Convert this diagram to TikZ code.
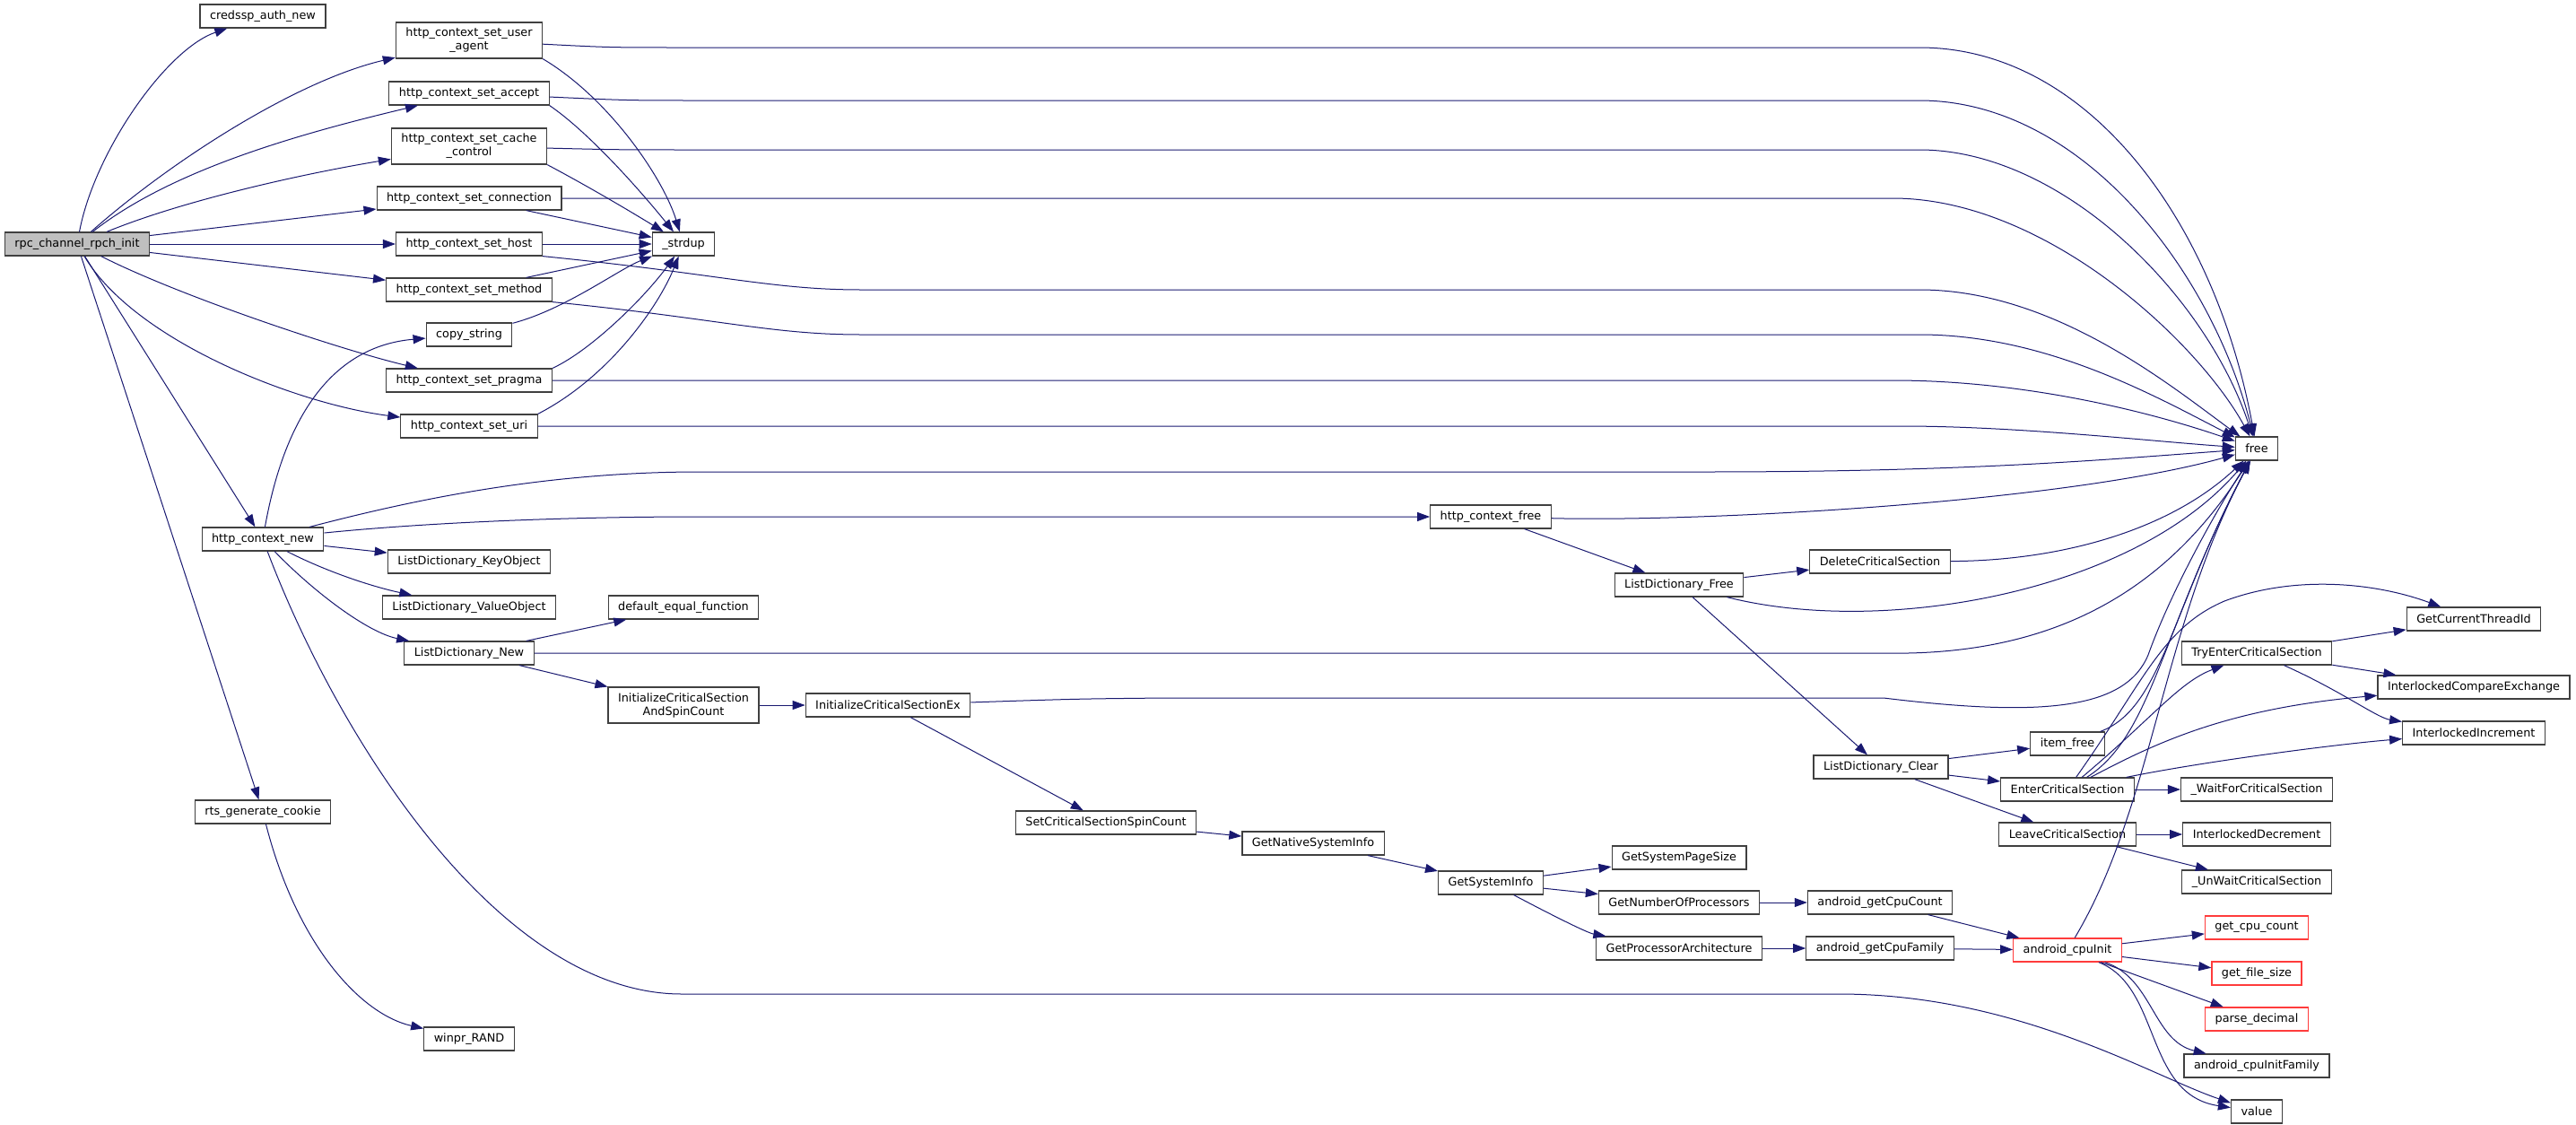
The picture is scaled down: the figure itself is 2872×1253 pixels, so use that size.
\documentclass[tikz,border=0pt]{standalone}
\usepackage{fontspec}
\setmainfont{DejaVu Sans}
\usetikzlibrary{arrows.meta,positioning}
\definecolor{edgeblue}{HTML}{191970}
\definecolor{boxgray}{HTML}{404040}
\definecolor{rootgray}{HTML}{BFBFBF}
\definecolor{boxred}{HTML}{FF3C3C}
\tikzset{
  fnbox/.style={draw=boxgray, line width=1.2pt, fill=white, inner xsep=11pt, inner ysep=0pt,
    minimum height=26pt, align=center, font=\fontsize{12.8}{15}\selectfont},
  fnroot/.style={fnbox, fill=rootgray},
  fnred/.style={fnbox, draw=boxred},
  twoline/.style={minimum height=40pt},
  callarrow/.style={draw=edgeblue, line width=1pt, -{Triangle[length=14pt,width=10pt]}}
}
\begin{document}
\begin{tikzpicture}[x=1pt,y=-1pt]
\useasboundingbox (0,0) rectangle (2872,1253);
%root
\node[fnroot] (rpc) at (86,272) {rpc\_channel\_rpch\_init};
%first level
\node[fnbox] (credssp) at (293,18) {credssp\_auth\_new};
\node[fnbox] (ctxnew) at (293,601) {http\_context\_new};
\node[fnbox] (rts) at (293,905) {rts\_generate\_cookie};
%setters
\node[fnbox,twoline] (ua) at (523,45) {http\_context\_set\_user\\\_agent};
\node[fnbox] (accept) at (523,104) {http\_context\_set\_accept};
\node[fnbox,twoline] (cachectl) at (523,163) {http\_context\_set\_cache\\\_control};
\node[fnbox] (conn) at (523,221) {http\_context\_set\_connection};
\node[fnbox] (host) at (523,272) {http\_context\_set\_host};
\node[fnbox] (method) at (523,323) {http\_context\_set\_method};
\node[fnbox] (copystr) at (523,373) {copy\_string};
\node[fnbox] (pragma) at (523,424) {http\_context\_set\_pragma};
\node[fnbox] (uri) at (523,475) {http\_context\_set\_uri};
\node[fnbox] (keyobj) at (523,626) {ListDictionary\_KeyObject};
\node[fnbox] (valobj) at (523,677) {ListDictionary\_ValueObject};
\node[fnbox] (ldnew) at (523,728) {ListDictionary\_New};
\node[fnbox] (winpr) at (523,1158) {winpr\_RAND};
%third column
\node[fnbox] (strdup) at (762,272) {\_strdup};
\node[fnbox] (defeq) at (762,677) {default\_equal\_function};
\node[fnbox,twoline] (icsasc) at (762,786) {InitializeCriticalSection\\AndSpinCount};
\node[fnbox] (icsex) at (990,786) {InitializeCriticalSectionEx};
%system info chain
\node[fnbox] (scscount) at (1233,917) {SetCriticalSectionSpinCount};
\node[fnbox] (gnsi) at (1464,940) {GetNativeSystemInfo};
\node[fnbox] (gsi) at (1662,984) {GetSystemInfo};
\node[fnbox] (pagesize) at (1872,956) {GetSystemPageSize};
\node[fnbox] (numproc) at (1872,1006) {GetNumberOfProcessors};
\node[fnbox] (procarch) at (1872,1057) {GetProcessorArchitecture};
\node[fnbox] (getcount) at (2096,1006) {android\_getCpuCount};
\node[fnbox] (getfamily) at (2096,1057) {android\_getCpuFamily};
\node[fnred] (cpuinit) at (2305,1059) {android\_cpuInit};
\node[fnred] (cpucount) at (2516,1034) {get\_cpu\_count};
\node[fnred] (filesize) at (2516,1085) {get\_file\_size};
\node[fnred] (parsedec) at (2516,1136) {parse\_decimal};
\node[fnbox] (initfamily) at (2516,1188) {android\_cpuInitFamily};
\node[fnbox] (value) at (2516,1239) {value};
%free chain
\node[fnbox] (ctxfree) at (1662,576) {http\_context\_free};
\node[fnbox] (ldfree) at (1872,652) {ListDictionary\_Free};
\node[fnbox] (delcs) at (2096,626) {DeleteCriticalSection};
\node[fnbox] (ldclear) at (2097,855) {ListDictionary\_Clear};
\node[fnbox] (itemfree) at (2305,829) {item\_free};
\node[fnbox] (entercs) at (2305,880) {EnterCriticalSection};
\node[fnbox] (leavecs) at (2305,930) {LeaveCriticalSection};
\node[fnbox] (free) at (2516,500) {free};
\node[fnbox] (tryenter) at (2516,728) {TryEnterCriticalSection};
\node[fnbox] (waitcs) at (2516,880) {\_WaitForCriticalSection};
\node[fnbox] (ildec) at (2516,930) {InterlockedDecrement};
\node[fnbox] (unwait) at (2516,983) {\_UnWaitCriticalSection};
\node[fnbox] (threadid) at (2758,690) {GetCurrentThreadId};
\node[fnbox] (cmpxchg) at (2758,766) {InterlockedCompareExchange};
\node[fnbox] (incr) at (2758,817) {InterlockedIncrement};

%calls of rpc_channel_rpch_init
\draw[callarrow] (rpc) .. controls (105,170) and (185,55) .. (credssp);
\draw[callarrow] (rpc) .. controls (190,180) and (330,90) .. (ua);
\draw[callarrow] (rpc) .. controls (190,190) and (330,150) .. (accept);
\draw[callarrow] (rpc) .. controls (200,225) and (330,195) .. (cachectl);
\draw[callarrow] (rpc) -- (conn);
\draw[callarrow] (rpc) -- (host);
\draw[callarrow] (rpc) -- (method);
\draw[callarrow] (rpc) .. controls (200,330) and (380,390) .. (pragma);
\draw[callarrow] (rpc) .. controls (150,380) and (330,450) .. (uri);
\draw[callarrow] (rpc) -- (ctxnew);
\draw[callarrow] (rpc) -- (rts);
%into _strdup
\draw[callarrow] (ua.south east) .. controls (680,110) and (740,200) .. (strdup);
\draw[callarrow] (accept.south east) .. controls (660,150) and (720,220) .. (strdup);
\draw[callarrow] (cachectl.south east) .. controls (660,210) and (710,240) .. (strdup);
\draw[callarrow] (conn) -- (strdup);
\draw[callarrow] (host) -- (strdup);
\draw[callarrow] (method) -- (strdup);
\draw[callarrow] (copystr) .. controls (630,345) and (690,300) .. (strdup);
\draw[callarrow] (pragma.north east) .. controls (660,390) and (720,330) .. (strdup);
\draw[callarrow] (uri.north east) .. controls (680,420) and (735,340) .. (strdup);
%into free, from the setters
\draw[callarrow] (ua) .. controls (680,53) .. (760,53) -- (2140,53) .. controls (2330,53) and (2470,250) .. (free);
\draw[callarrow] (accept) .. controls (700,112) .. (780,112) -- (2140,112) .. controls (2320,112) and (2465,300) .. (free);
\draw[callarrow] (cachectl) .. controls (690,167) .. (780,167) -- (2140,167) .. controls (2300,167) and (2460,330) .. (free);
\draw[callarrow] (conn) -- (2110,221) .. controls (2280,221) and (2450,380) .. (free);
\draw[callarrow] (host.south east) .. controls (800,305) and (860,323) .. (960,323) -- (2140,323) .. controls (2290,323) and (2420,430) .. (free);
\draw[callarrow] (method.south east) .. controls (800,355) and (860,373) .. (960,373) -- (2140,373) .. controls (2280,373) and (2400,440) .. (free);
\draw[callarrow] (pragma) -- (2110,424) .. controls (2260,424) and (2400,460) .. (free);
\draw[callarrow] (uri) -- (2120,475) .. controls (2250,475) and (2400,492) .. (free);
%calls of http_context_new
\draw[callarrow] (ctxnew) .. controls (320,450) and (380,385) .. (copystr);
\draw[callarrow] (ctxnew) .. controls (450,560) and (600,526) .. (780,526) -- (1900,526) .. controls (2200,526) and (2350,512) .. (free);
\draw[callarrow] (ctxnew) .. controls (450,585) and (600,576) .. (780,576) -- (ctxfree);
\draw[callarrow] (ctxnew) -- (keyobj);
\draw[callarrow] (ctxnew) .. controls (370,640) and (420,655) .. (valobj);
\draw[callarrow] (ctxnew) .. controls (350,660) and (410,705) .. (ldnew);
\draw[callarrow] (ctxnew) .. controls (380,830) and (560,1108) .. (760,1108) -- (2050,1108) .. controls (2250,1108) and (2400,1200) .. (value);
\draw[callarrow] (rts) .. controls (330,1050) and (400,1130) .. (winpr);
%ListDictionary_New
\draw[callarrow] (ldnew) -- (defeq);
\draw[callarrow] (ldnew) -- (2100,728) .. controls (2300,732) and (2420,650) .. (free);
\draw[callarrow] (ldnew) -- (icsasc);
\draw[callarrow] (icsasc) -- (icsex);
\draw[callarrow] (icsex) .. controls (1200,779) .. (1300,778) -- (2100,778) .. controls (2280,800) and (2370,790) .. (2395,730) .. controls (2420,660) and (2470,570) .. (free);
\draw[callarrow] (icsex) -- (scscount);
%system info
\draw[callarrow] (scscount) -- (gnsi);
\draw[callarrow] (gnsi) -- (gsi);
\draw[callarrow] (gsi) -- (pagesize);
\draw[callarrow] (gsi) -- (numproc);
\draw[callarrow] (gsi) .. controls (1730,1020) and (1770,1040) .. (procarch);
\draw[callarrow] (numproc) -- (getcount);
\draw[callarrow] (procarch) -- (getfamily);
\draw[callarrow] (getcount) -- (cpuinit);
\draw[callarrow] (getfamily) -- (cpuinit);
%android_cpuInit
\draw[callarrow] (cpuinit) -- (cpucount);
\draw[callarrow] (cpuinit) -- (filesize);
\draw[callarrow] (cpuinit) -- (parsedec);
\draw[callarrow] (cpuinit) .. controls (2400,1090) and (2400,1160) .. (initfamily);
\draw[callarrow] (cpuinit) .. controls (2410,1100) and (2390,1220) .. (value);
\draw[callarrow] (cpuinit) .. controls (2400,900) and (2410,700) .. (free);
%http_context_free
\draw[callarrow] (ctxfree) -- (ldfree);
\draw[callarrow] (ctxfree) .. controls (1900,582) and (2300,560) .. (free);
\draw[callarrow] (ldfree) -- (delcs);
\draw[callarrow] (ldfree) .. controls (2100,710) and (2380,660) .. (free);
\draw[callarrow] (ldfree) -- (ldclear);
\draw[callarrow] (delcs) .. controls (2300,625) and (2420,590) .. (free);
%ListDictionary_Clear
\draw[callarrow] (ldclear) -- (itemfree);
\draw[callarrow] (ldclear) -- (entercs);
\draw[callarrow] (ldclear) -- (leavecs);
\draw[callarrow] (itemfree) .. controls (2410,790) and (2420,680) .. (free);
\draw[callarrow] (entercs) .. controls (2400,820) and (2410,700) .. (free);
\draw[callarrow] (entercs) .. controls (2400,800) and (2430,760) .. (tryenter);
\draw[callarrow] (entercs) .. controls (2390,760) and (2410,700) .. (2480,670) .. controls (2560,640) and (2650,650) .. (threadid);
\draw[callarrow] (entercs) .. controls (2400,830) and (2480,790) .. (cmpxchg);
\draw[callarrow] (entercs) .. controls (2450,850) and (2600,830) .. (incr);
\draw[callarrow] (entercs) -- (waitcs);
\draw[callarrow] (tryenter) -- (threadid);
\draw[callarrow] (tryenter) -- (cmpxchg);
\draw[callarrow] (tryenter) .. controls (2610,770) and (2650,800) .. (incr);
\draw[callarrow] (leavecs) -- (ildec);
\draw[callarrow] (leavecs) -- (unwait);
\end{tikzpicture}
\end{document}
